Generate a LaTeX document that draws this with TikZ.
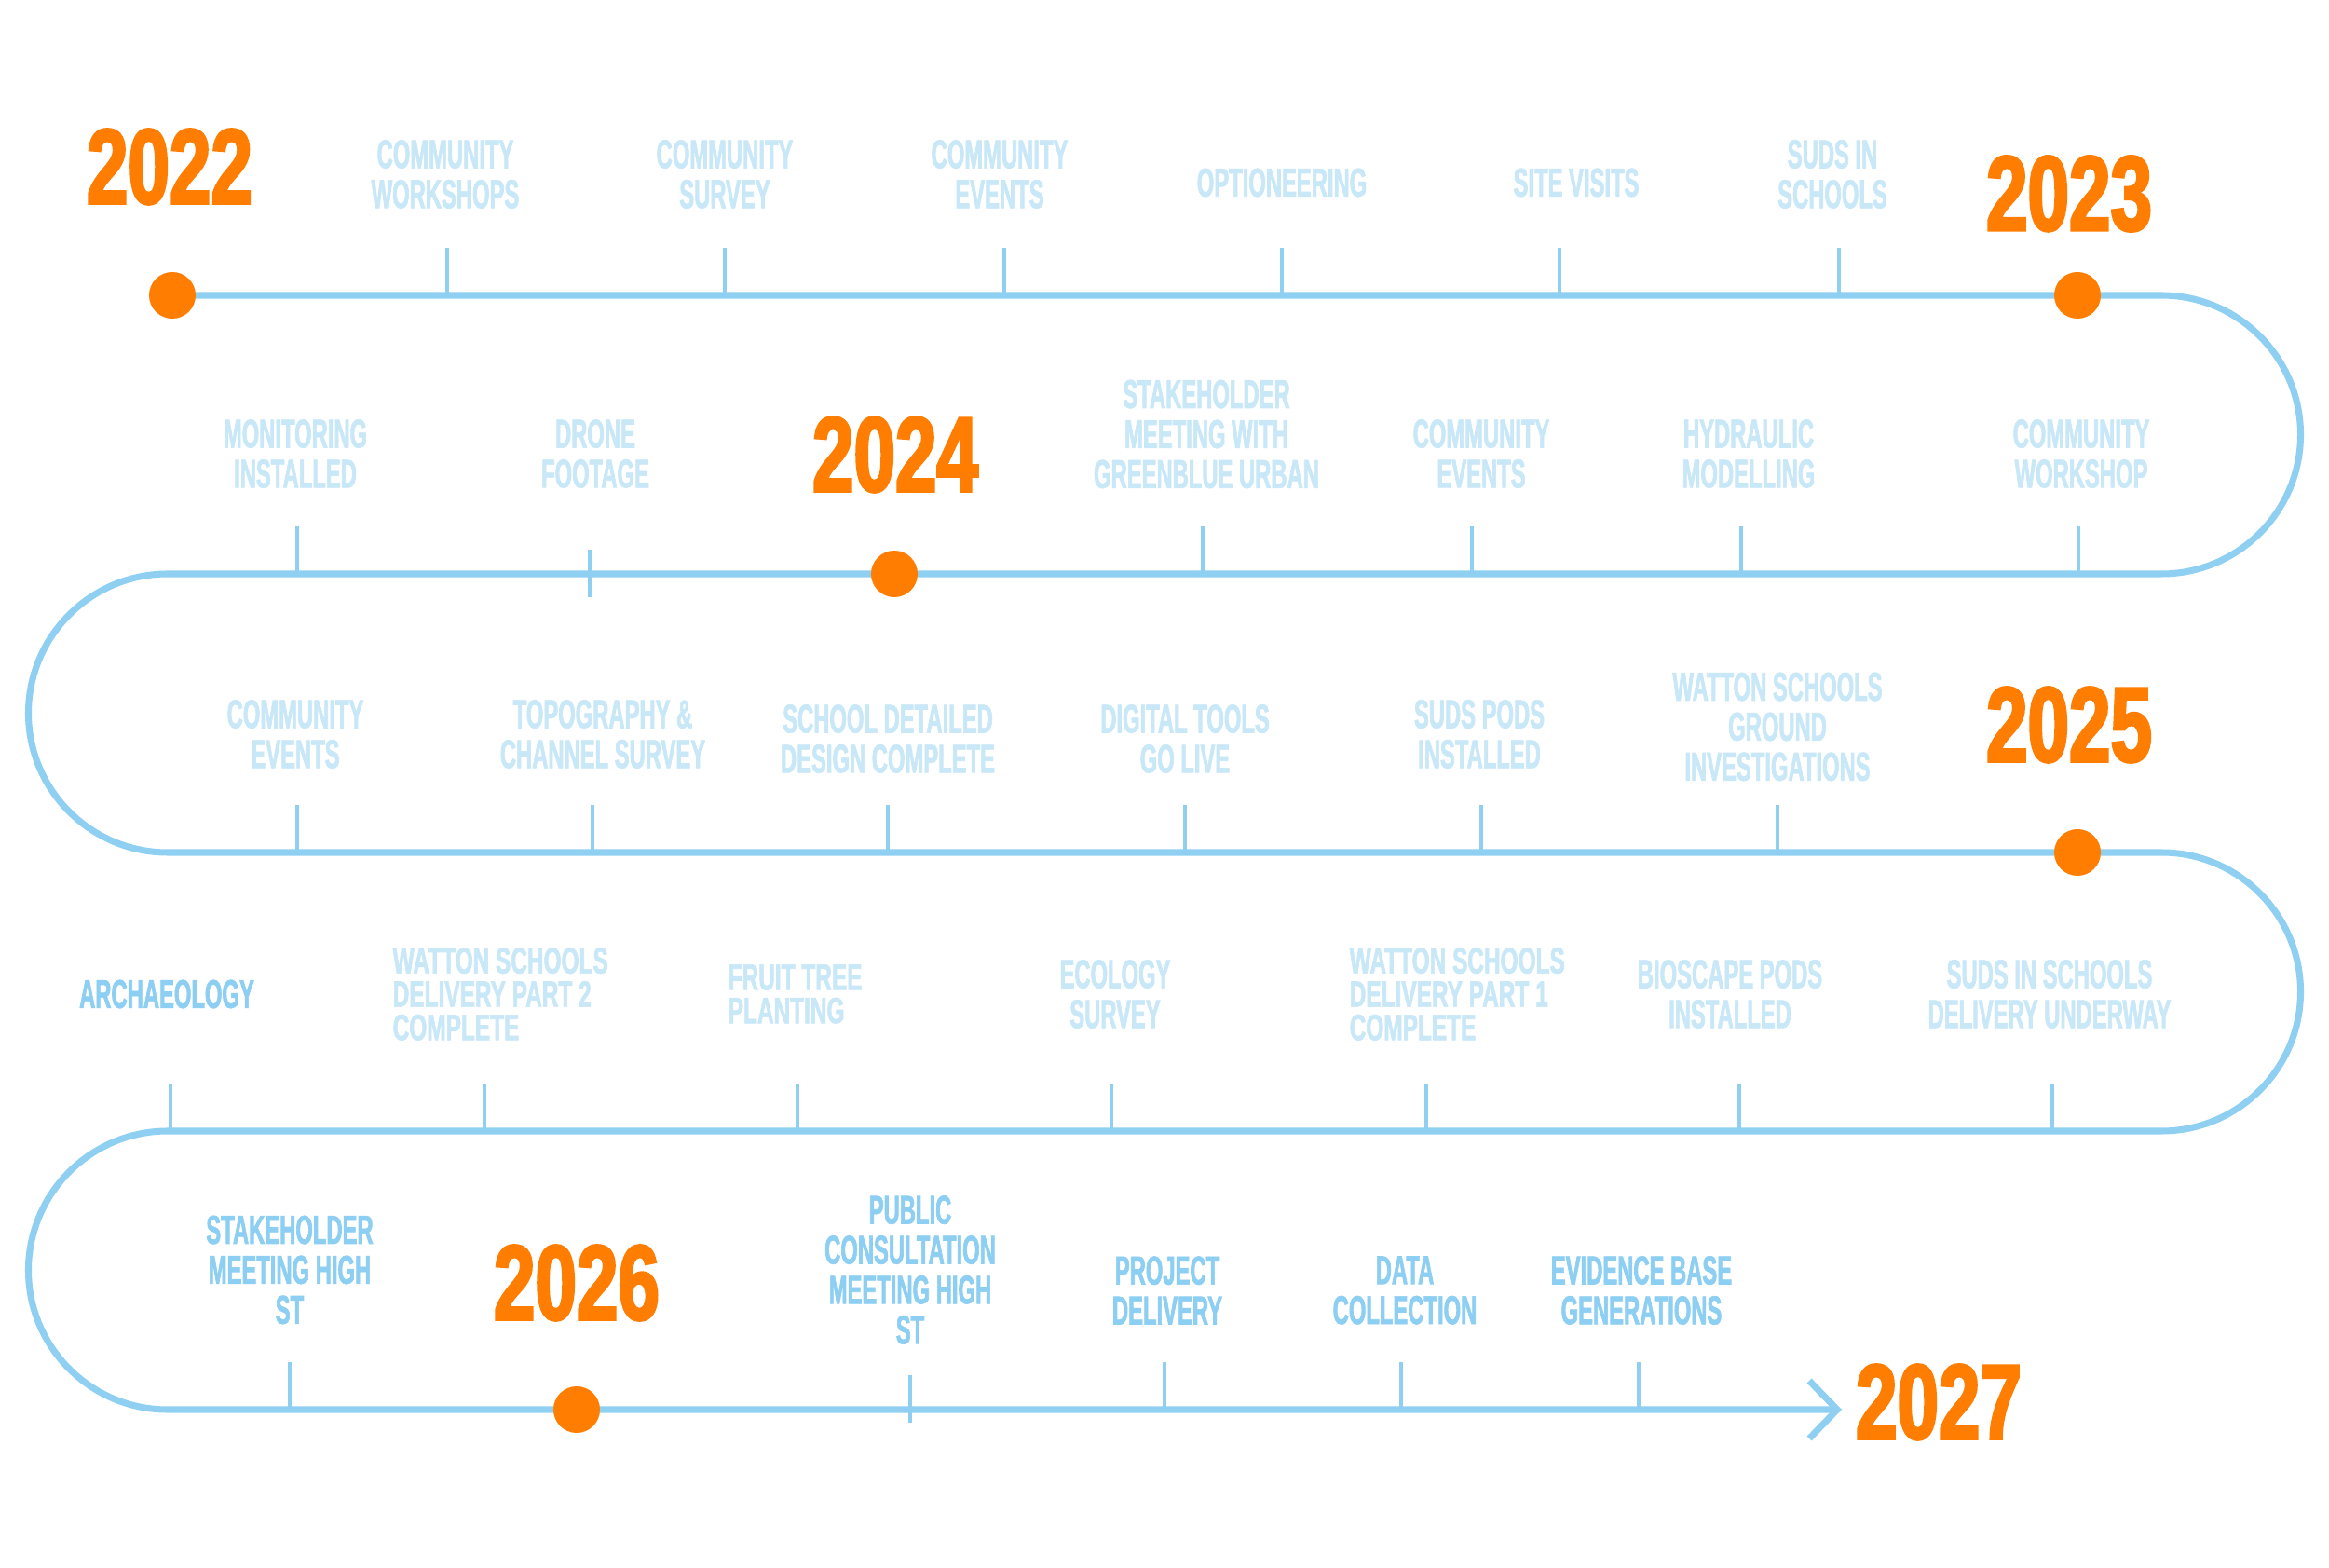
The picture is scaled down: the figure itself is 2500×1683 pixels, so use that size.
\documentclass[tikz,border=0pt]{standalone}
\usepackage{fontspec}
\usepackage{tikz}
\usetikzlibrary{arrows.meta}
\newfontfamily\yearfont[FakeStretch=0.70,FakeBold=2.5]{Liberation Sans}
\newfontfamily\eventfont[FakeStretch=0.55,FakeBold=1.5]{Liberation Sans}
\newfontfamily\eventwidefont[FakeStretch=0.62,FakeBold=1.5]{Liberation Sans}
\definecolor{yearorange}{HTML}{FF7D00}
\definecolor{trackblue}{HTML}{8FD0F2}
\definecolor{labelpale}{HTML}{C8E8F8}
\definecolor{labelblue}{HTML}{8CCFF2}

\begin{document}
\begin{tikzpicture}[x=0.01cm,y=-0.01cm,
    track/.style={draw=trackblue, line width=2pt},
    tickmark/.style={draw=trackblue, line width=1.3pt},
    yeardot/.style={fill=yearorange},
    yr/.style={font={\yearfont\bfseries\fontsize{32.5pt}{33pt}\selectfont}, text=yearorange, inner sep=0pt},
    ev/.style={font={\eventfont\bfseries\fontsize{12.3pt}{12.2pt}\selectfont}, text=labelpale, align=center, inner sep=0pt},
    evdark/.style={ev, text=labelblue},
    evleft/.style={ev, align=left, anchor=west, font={\eventwidefont\bfseries\fontsize{11.2pt}{10.2pt}\selectfont}}]
  \fill[white] (0,0) rectangle (2500,1683);
  \useasboundingbox (0,0) rectangle (2500,1683);

  %% the winding track
  \draw[track, -{Straight Barb[length=0.3cm,width=0.62cm]}] (185,317) -- (2320,317)
      arc[start angle=-90, end angle=90, radius=149.5] -- (180,616)
      arc[start angle=270, end angle=90, radius=149.5] -- (2320,915)
      arc[start angle=-90, end angle=90, radius=149.5] -- (180,1214)
      arc[start angle=270, end angle=90, radius=149.5] -- (1977,1513);

  %% ticks
  \foreach \x in {480,778,1078,1376,1674,1974}
    \draw[tickmark] (\x,317) -- (\x,266);
  \foreach \x in {319,1291,1580,1869,2231}
    \draw[tickmark] (\x,616) -- (\x,565);
  \draw[tickmark] (633,641) -- (633,590);
  \foreach \x in {319,636,953,1272,1590,1908}
    \draw[tickmark] (\x,915) -- (\x,864);
  \foreach \x in {183,520,856,1193,1531,1867,2203}
    \draw[tickmark] (\x,1214) -- (\x,1163);
  \foreach \x in {311,1250,1504,1759}
    \draw[tickmark] (\x,1513) -- (\x,1462);
  \draw[tickmark] (977,1527) -- (977,1476);

  %% year dots
  \foreach \p in {(185,317),(2230,317),(960,616),(2230,915),(619,1513)}
    \fill[yeardot] \p circle[radius=25];

  %% years
  \node[yr] (y2022) at (182,179) {2022};
  \node[yr] (y2023) at (2221,208) {2023};
  \node[yr] (y2024) at (961,488) {2024};
  \node[yr] (y2025) at (2221,778) {2025};
  \node[yr] (y2026) at (619,1377) {2026};
  \node[yr] (y2027) at (2081,1505) {2027};

  %% row 1
  \node[ev] (e1a) at (478,187) {COMMUNITY\\WORKSHOPS};
  \node[ev] (e1b) at (778,187) {COMMUNITY\\SURVEY};
  \node[ev] (e1c) at (1073,187) {COMMUNITY\\EVENTS};
  \node[ev] (e1d) at (1376,196) {OPTIONEERING};
  \node[ev] (e1e) at (1692,196) {SITE VISITS};
  \node[ev] (e1f) at (1967,187) {SUDS IN\\SCHOOLS};

  %% row 2
  \node[ev] (e2a) at (317,487) {MONITORING\\INSTALLED};
  \node[ev] (e2b) at (639,487) {DRONE\\FOOTAGE};
  \node[ev] (e2c) at (1295,466) {STAKEHOLDER\\MEETING WITH\\GREENBLUE URBAN};
  \node[ev] (e2d) at (1590,487) {COMMUNITY\\EVENTS};
  \node[ev] (e2e) at (1877,487) {HYDRAULIC\\MODELLING};
  \node[ev] (e2f) at (2234,487) {COMMUNITY\\WORKSHOP};

  %% row 3
  \node[ev] (e3a) at (317,788) {COMMUNITY\\EVENTS};
  \node[ev] (e3b) at (647,788) {TOPOGRAPHY \&\\CHANNEL SURVEY};
  \node[ev] (e3c) at (953,793) {SCHOOL DETAILED\\DESIGN COMPLETE};
  \node[ev] (e3d) at (1272,793) {DIGITAL TOOLS\\GO LIVE};
  \node[ev] (e3e) at (1588,788) {SUDS PODS\\INSTALLED};
  \node[ev] (e3f) at (1908,780) {WATTON SCHOOLS\\GROUND\\INVESTIGATIONS};

  %% row 4
  \node[evdark] (e4a) at (179,1067) {ARCHAEOLOGY};
  \node[evleft] (e4b) at (421,1067) {WATTON SCHOOLS\\DELIVERY PART 2\\COMPLETE};
  \node[evleft] (e4c) at (781,1067) {FRUIT TREE\\PLANTING};
  \node[ev] (e4d) at (1197,1067) {ECOLOGY\\SURVEY};
  \node[evleft] (e4e) at (1448,1067) {WATTON SCHOOLS\\DELIVERY PART 1\\COMPLETE};
  \node[ev] (e4f) at (1857,1067) {BIOSCAPE PODS\\INSTALLED};
  \node[ev] (e4g) at (2200,1067) {SUDS IN SCHOOLS\\DELIVERY UNDERWAY};

  %% row 5
  \node[evdark] (e5a) at (311,1363) {STAKEHOLDER\\MEETING HIGH\\ST};
  \node[evdark] (e5b) at (977,1363) {PUBLIC\\CONSULTATION\\MEETING HIGH\\ST};
  \node[evdark] (e5c) at (1253,1385) {PROJECT\\DELIVERY};
  \node[evdark] (e5d) at (1508,1385) {DATA\\COLLECTION};
  \node[evdark] (e5e) at (1762,1385) {EVIDENCE BASE\\GENERATIONS};
\end{tikzpicture}
\end{document}
